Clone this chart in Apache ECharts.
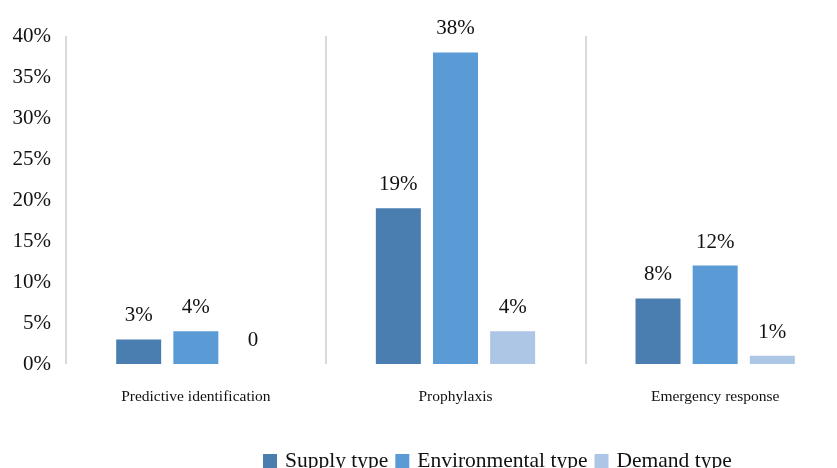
<!DOCTYPE html>
<html>
<head>
<meta charset="utf-8">
<script src="https://cdn.jsdelivr.net/npm/echarts@6/dist/echarts.min.js"></script>
<style>
html,body{margin:0;padding:0;background:#fff;}
#chart{width:837px;height:468px;}
</style>
</head>
<body>
<div id="chart"></div>
<script>
const categories = ['Predictive identification', 'Prophylaxis', 'Emergency response'];
const seriesNames = ['Supply type', 'Environmental type', 'Demand type'];
const supplyValues = [3, 19, 8];
const environmentalValues = [4, 38, 12];
const demandValues = [0, 4, 1];
const yTicks = { min: 0, max: 40, interval: 5 };

const FONT = "'Liberation Serif', 'Times New Roman', serif";
const colors = ['#4a7eb0', '#5b9bd5', '#adc6e6'];
const allValues = [supplyValues, environmentalValues, demandValues];

const chart = echarts.init(document.getElementById('chart'), null, { renderer: 'canvas' });
chart.setOption({
  animation: false,
  backgroundColor: '#ffffff',
  grid: { left: 66, width: 779, top: 36, bottom: 104, containLabel: false, outerBoundsMode: 'none' },
  legend: {
    data: seriesNames,
    left: 258,
    top: 445,
    itemWidth: 14,
    itemHeight: 14,
    itemGap: 7,
    icon: 'rect',
    textStyle: { fontFamily: FONT, fontSize: 21.5, color: '#111', padding: [0, 0, 0, 3] }
  },
  xAxis: {
    type: 'category',
    data: categories,
    boundaryGap: true,
    axisLine: { show: false },
    axisTick: { show: false },
    splitLine: { show: true, lineStyle: { color: '#d9d9d9', width: 2 } },
    axisLabel: { fontFamily: FONT, fontSize: 15.5, color: '#111', margin: 25 }
  },
  yAxis: {
    type: 'value',
    min: yTicks.min,
    max: yTicks.max,
    interval: yTicks.interval,
    axisLine: { show: false },
    axisTick: { show: false },
    splitLine: { show: false },
    axisLabel: { fontFamily: FONT, fontSize: 21, color: '#111', margin: 15, padding: [4, 0, 0, 0], formatter: '{value}%' }
  },
  series: seriesNames.map((name, i) => ({
    name: name,
    type: 'bar',
    data: allValues[i],
    barWidth: 45,
    barGap: '27%',
    itemStyle: { color: colors[i] },
    label: {
      show: true,
      position: 'top',
      distance: 13,
      fontFamily: FONT,
      fontSize: 21,
      color: '#111',
      formatter: p => (p.value === 0 ? '0' : p.value + '%')
    }
  }))
});
</script>
</body>
</html>
